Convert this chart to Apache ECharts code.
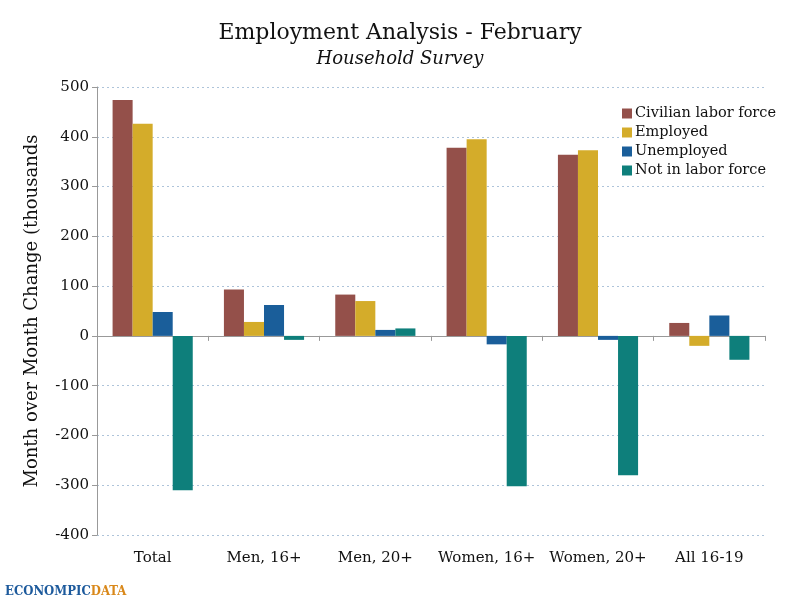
<!DOCTYPE html>
<html>
<head>
<meta charset="utf-8">
<script src="https://cdn.jsdelivr.net/npm/echarts@6/dist/echarts.min.js"></script>
<style type="text/css">
	html,body{margin:0;padding:0;background:#fff}
	#main{width:800px;height:609px;}
</style>
</head>
<body>
<div id="main"></div>
<script type="text/javascript">
// categories and values (thousands)
var categories = ['Total', 'Men, 16+', 'Men, 20+', 'Women, 16+', 'Women, 20+', 'All 16-19'];
var civilian   = [474, 93, 83, 378, 364, 26];
var employed   = [426, 28, 70, 395, 373, -20];
var unemployed = [48, 62, 12, -17, -8, 41];
var notInLabor = [-310, -8, 15, -302, -280, -48];

var seriesNames  = ['Civilian labor force', 'Employed', 'Unemployed', 'Not in labor force'];
var seriesColors = ['#94504a', '#d4ac2a', '#1a5e9a', '#0e7f7b'];
var seriesData   = [civilian, employed, unemployed, notInLabor];

var serif = 'DejaVu Serif';

var chart = echarts.init(document.getElementById('main'));

var series = [];
seriesNames.forEach(function(name, i){
	series.push({
		name: name,
		type: 'bar',
		xAxisIndex: 0,
		data: seriesData[i],
		barGap: '0%',
		barCategoryGap: '28%',
		itemStyle: {color: seriesColors[i]}
	});
});

var option = {
	animation: false,
	backgroundColor: '#fff',
	title: {
		text: 'Employment Analysis - February',
		subtext: 'Household Survey',
		left: 'center',
		top: 17,
		itemGap: 6,
		textStyle: {fontFamily: serif, fontSize: 22, fontWeight: 'normal', color: '#111'},
		subtextStyle: {fontFamily: serif, fontSize: 18, fontStyle: 'italic', color: '#111'}
	},
	legend: {
		orient: 'vertical',
		left: 620,
		top: 104,
		itemWidth: 10,
		itemHeight: 10,
		itemGap: 4,
		padding: [2, 4, 2, 2],
		backgroundColor: '#fff',
		icon: 'rect',
		textStyle: {fontFamily: serif, fontSize: 14.5, color: '#111', padding: [0, 0, 0, -2]},
		data: seriesNames
	},
	grid: {left: 97, right: 35, top: 87, bottom: 74},
	xAxis: [
		{
			type: 'category',
			data: categories,
			axisLine: {show: true, onZero: true, lineStyle: {color: '#999'}},
			axisTick: {show: true, length: 5, lineStyle: {color: '#999'}},
			axisLabel: {show: false}
		},
		{
			type: 'category',
			data: categories,
			position: 'bottom',
			axisLine: {show: false, onZero: false},
			axisTick: {show: false},
			axisLabel: {interval: 0, fontFamily: serif, fontSize: 15, color: '#111', margin: 16}
		}
	],
	yAxis: {
		type: 'value',
		min: -400,
		max: 500,
		interval: 100,
		name: 'Month over Month Change (thousands',
		nameLocation: 'middle',
		nameGap: 56,
		nameTextStyle: {fontFamily: serif, fontSize: 18, color: '#111'},
		axisLine: {show: true, lineStyle: {color: '#999'}},
		axisTick: {show: true, length: 5, lineStyle: {color: '#999'}},
		axisLabel: {fontFamily: serif, fontSize: 15, color: '#111', margin: 8},
		splitLine: {lineStyle: {color: '#aec4da', type: [2, 3], width: 1}}
	},
	graphic: [{
		type: 'text',
		left: 5,
		top: 585,
		style: {
			text: '{a|ECONOMPIC}{b|DATA}',
			rich: {
				a: {fontFamily: 'DejaVu Serif Condensed', fontWeight: 'bold', fontSize: 13, fill: '#1d5a9c'},
				b: {fontFamily: 'DejaVu Serif Condensed', fontWeight: 'bold', fontSize: 13, fill: '#d9881a'}
			}
		}
	}],
	series: series
};

chart.setOption(option);
</script>
</body>
</html>
